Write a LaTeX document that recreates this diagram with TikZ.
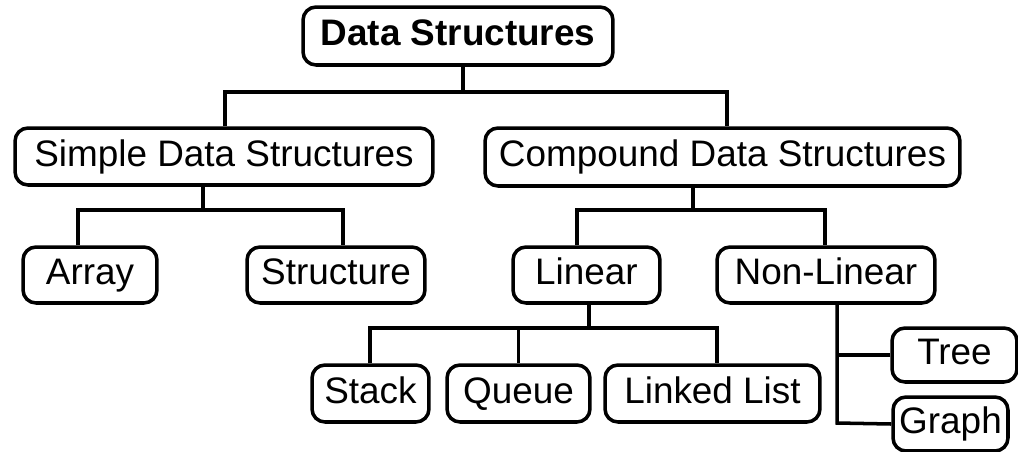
\documentclass[tikz,border=0pt]{standalone}
\usepackage{fontspec}
\setmainfont{Liberation Sans}
\begin{document}
\begin{tikzpicture}[x=0.02cm,y=-0.02cm,line width=2pt,
  box/.style={draw,rounded corners=0.26cm,inner sep=0pt,minimum height=1.14cm,
    text height=15pt,text depth=4pt,font=\fontsize{21}{25}\selectfont},
  link/.style={line width=2pt}]
\useasboundingbox (0,0) rectangle (1018,451);

% level 0 and 1
\node[box,minimum width=6.2cm,minimum height=1.16cm,font=\bfseries\fontsize{21}{25}\selectfont] (ds) at (458,36) {Data Structures};
\node[box,minimum width=8.36cm] (simple) at (224,156.5) {Simple\ Data\ Structures};
\node[box,minimum width=9.5cm,minimum height=1.16cm] (compound) at (722.5,157) {Compound\ Data\ Structures};

% level 2
\node[box,minimum width=2.68cm,minimum height=1.12cm] (array) at (90,275) {Array};
\node[box,minimum width=3.56cm,minimum height=1.12cm] (structure) at (336,275) {Structure};
\node[box,minimum width=2.94cm,minimum height=1.12cm] (linear) at (586.5,275) {Linear};
\node[box,minimum width=4.36cm,minimum height=1.12cm] (nonlinear) at (826,275) {Non-Linear};

% level 3
\node[box,minimum width=2.34cm] (stack) at (370.5,393.5) {Stack};
\node[box,minimum width=2.86cm] (queue) at (518.5,393.5) {Queue};
\node[box,minimum width=4.3cm] (linked) at (712.5,393.5) {Linked\ List};
\node[box,minimum width=2.5cm,minimum height=1.08cm] (tree) at (954.5,355) {Tree};
\node[box,minimum width=2.3cm,minimum height=1.08cm] (graph) at (950.5,424) {Graph};

% junctions
\coordinate (j0) at (463,92);
\coordinate (j1) at (203,210);
\coordinate (j2) at (693,210);
\coordinate (j3) at (589,328);
\coordinate (j4) at (837,423);

% connectors
\draw[link] (ds.south -| j0) -- (j0);
\draw[link] (simple.north -| 225,0) |- (j0) -| (compound.north -| 727,0);
\draw[link] (simple.south -| j1) -- (j1);
\draw[link] (array.north -| 78,0) |- (j1) -| (structure.north -| 343,0);
\draw[link] (compound.south -| j2) -- (j2);
\draw[link] (linear.north -| 577,0) |- (j2) -| (nonlinear.north -| 825,0);
\draw[link] (linear.south -| j3) -- (j3);
\draw[link] (stack.north -| 370,0) |- (j3) -| (linked.north -| 717,0);
\draw[link] (queue.north) -- (queue.north |- j3);
\draw[link] (nonlinear.south -| j4) -- (j4) -- (graph.west);
\draw[link] (tree.west) -- (tree.west -| j4);

\end{tikzpicture}
\end{document}
